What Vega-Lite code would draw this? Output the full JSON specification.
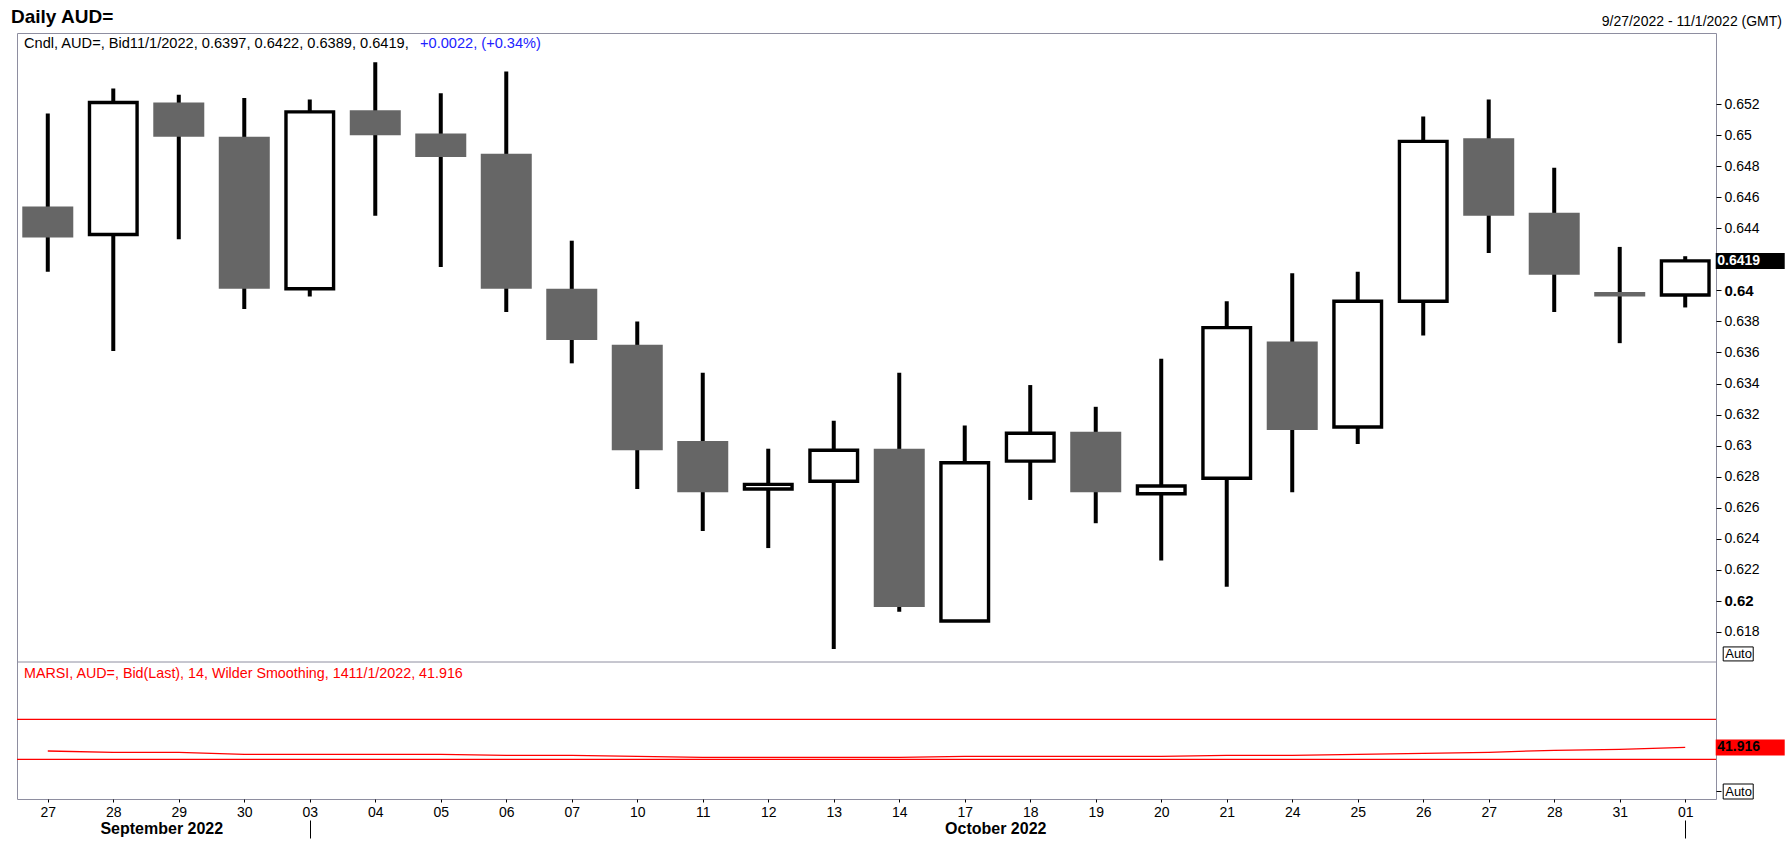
{
  "$schema": "https://vega.github.io/schema/vega-lite/v6.json",
  "autosize": {"type": "none"},
  "width": 1699,
  "height": 766,
  "padding": {"left": 17, "top": 33, "right": 72, "bottom": 63},
  "background": "white",
  "config": {
    "view": {"stroke": "#8e8ea0", "strokeWidth": 1},
    "font": "Liberation Sans"
  },
  "data": {
    "values": [
      {"d": "2022-09-27", "o": 0.6454, "h": 0.6514, "l": 0.6412, "c": 0.6434, "rsi": 38.3},
      {"d": "2022-09-28", "o": 0.6436, "h": 0.6530, "l": 0.6361, "c": 0.6521, "rsi": 37.0},
      {"d": "2022-09-29", "o": 0.6521, "h": 0.6526, "l": 0.6433, "c": 0.6499, "rsi": 37.0},
      {"d": "2022-09-30", "o": 0.6499, "h": 0.6524, "l": 0.6388, "c": 0.6401, "rsi": 35.0},
      {"d": "2022-10-03", "o": 0.6401, "h": 0.6523, "l": 0.6396, "c": 0.6515, "rsi": 35.0},
      {"d": "2022-10-04", "o": 0.6516, "h": 0.6547, "l": 0.6448, "c": 0.6500, "rsi": 35.0},
      {"d": "2022-10-05", "o": 0.6501, "h": 0.6527, "l": 0.6415, "c": 0.6486, "rsi": 35.0},
      {"d": "2022-10-06", "o": 0.6488, "h": 0.6541, "l": 0.6386, "c": 0.6401, "rsi": 34.0},
      {"d": "2022-10-07", "o": 0.6401, "h": 0.6432, "l": 0.6353, "c": 0.6368, "rsi": 34.0},
      {"d": "2022-10-10", "o": 0.6365, "h": 0.6380, "l": 0.6272, "c": 0.6297, "rsi": 33.0},
      {"d": "2022-10-11", "o": 0.6303, "h": 0.6347, "l": 0.6245, "c": 0.6270, "rsi": 32.0},
      {"d": "2022-10-12", "o": 0.6272, "h": 0.6298, "l": 0.6234, "c": 0.6275, "rsi": 32.0},
      {"d": "2022-10-13", "o": 0.6277, "h": 0.6316, "l": 0.6169, "c": 0.6297, "rsi": 32.0},
      {"d": "2022-10-14", "o": 0.6298, "h": 0.6347, "l": 0.6193, "c": 0.6196, "rsi": 32.0},
      {"d": "2022-10-17", "o": 0.6187, "h": 0.6313, "l": 0.6187, "c": 0.6289, "rsi": 33.0},
      {"d": "2022-10-18", "o": 0.6290, "h": 0.6339, "l": 0.6265, "c": 0.6308, "rsi": 33.0},
      {"d": "2022-10-19", "o": 0.6309, "h": 0.6325, "l": 0.6250, "c": 0.6270, "rsi": 33.0},
      {"d": "2022-10-20", "o": 0.6269, "h": 0.6356, "l": 0.6226, "c": 0.6274, "rsi": 33.0},
      {"d": "2022-10-21", "o": 0.6279, "h": 0.6393, "l": 0.6209, "c": 0.6376, "rsi": 34.0},
      {"d": "2022-10-24", "o": 0.6367, "h": 0.6411, "l": 0.6270, "c": 0.6310, "rsi": 34.0},
      {"d": "2022-10-25", "o": 0.6312, "h": 0.6412, "l": 0.6301, "c": 0.6393, "rsi": 35.0},
      {"d": "2022-10-26", "o": 0.6393, "h": 0.6512, "l": 0.6371, "c": 0.6496, "rsi": 36.0},
      {"d": "2022-10-27", "o": 0.6498, "h": 0.6523, "l": 0.6424, "c": 0.6448, "rsi": 37.0},
      {"d": "2022-10-28", "o": 0.6450, "h": 0.6479, "l": 0.6386, "c": 0.6410, "rsi": 39.0},
      {"d": "2022-10-31", "o": 0.6399, "h": 0.6428, "l": 0.6366, "c": 0.6396, "rsi": 40.0},
      {"d": "2022-11-01", "o": 0.6397, "h": 0.6422, "l": 0.6389, "c": 0.6419, "rsi": 41.916}
    ]
  },
  "layer": [
    {
      "layer": [
        {
          "mark": {"type": "rule", "color": "black", "strokeWidth": 4},
          "encoding": {
            "x": {
              "field": "d",
              "type": "ordinal",
              "title": null,
              "scale": {"type": "point", "padding": 0.47},
              "axis": {
                "orient": "bottom",
                "values": ["2022-10-03", "2022-11-01"],
                "labels": false,
                "domain": false,
                "grid": false,
                "ticks": true,
                "tickSize": 18,
                "tickColor": "black",
                "offset": 21,
                "title": null
              }
            },
            "y": {
              "field": "l",
              "type": "quantitative",
              "scale": {"domain": [0.61606, 0.65658], "range": [629, 0], "nice": false, "zero": false},
              "axis": {
                "orient": "right",
                "values": [0.618, 0.62, 0.622, 0.624, 0.626, 0.628, 0.63, 0.632, 0.634, 0.636, 0.638, 0.64, 0.644, 0.646, 0.648, 0.65, 0.652],
                "format": ".3~f",
                "domain": false,
                "grid": false,
                "tickSize": 5,
                "tickColor": "black",
                "labelPadding": 3,
                "labelColor": "black",
                "labelBaseline": "middle",
                "labelFlush": false,
                "labelOverlap": false,
                "labelFontSize": {"condition": {"test": "datum.value == 0.64 || datum.value == 0.62", "value": 15}, "value": 14},
                "labelFontWeight": {"condition": {"test": "datum.value == 0.64 || datum.value == 0.62", "value": "bold"}, "value": "normal"},
                "title": ["Price", "USD"],
                "titleAngle": 0,
                "titleAlign": "left",
                "titleBaseline": "alphabetic",
                "titleX": 6,
                "titleY": 30,
                "titleFontSize": 14,
                "titleFontWeight": "normal",
                "titleLineHeight": 18,
                "titleColor": "black"
              }
            },
            "y2": {"field": "h"}
          }
        },
        {
          "transform": [{"filter": "datum.c < datum.o"}],
          "mark": {"type": "bar", "size": 51, "color": "#666666"},
          "encoding": {
            "x": {"field": "d", "type": "ordinal", "title": null},
            "y": {"field": "o", "type": "quantitative", "title": null},
            "y2": {"field": "c"}
          }
        },
        {
          "transform": [{"filter": "datum.c >= datum.o"}],
          "mark": {"type": "bar", "size": 47.6, "fill": "white", "stroke": "black", "strokeWidth": 3.4},
          "encoding": {
            "x": {"field": "d", "type": "ordinal", "title": null},
            "y": {"field": "o", "type": "quantitative", "title": null},
            "y2": {"field": "c"}
          }
        },
        {
          "transform": [{"filter": "datum.d == '2022-11-01'"}],
          "mark": {"type": "point", "shape": "M 0.61 -0.16 H 1.99 V 0.16 H 0.61 Z", "size": 10000, "filled": true, "color": "black", "opacity": 1, "strokeWidth": 0},
          "encoding": {
            "x": {"field": "d", "type": "ordinal", "title": null},
            "y": {"field": "c", "type": "quantitative", "title": null}
          }
        },
        {
          "transform": [{"filter": "datum.d == '2022-11-01'"}],
          "mark": {"type": "text", "align": "left", "baseline": "middle", "dx": 32, "fontSize": 14, "fontWeight": "bold", "color": "white"},
          "encoding": {
            "x": {"field": "d", "type": "ordinal", "title": null},
            "y": {"field": "c", "type": "quantitative", "title": null},
            "text": {"field": "c", "type": "quantitative", "format": ".4f"}
          }
        },
        {
          "data": {"values": [{}]},
          "mark": {"type": "point", "shape": "M 0.76 -0.14 H 1.36 V 0.14 H 0.76 Z", "size": 10000, "filled": false, "color": "black", "opacity": 1, "strokeWidth": 1},
          "encoding": {
            "x": {"datum": "2022-11-01", "type": "ordinal"},
            "y": {"datum": 0.61658, "type": "quantitative"}
          }
        },
        {
          "data": {"values": [{}]},
          "mark": {"type": "text", "text": "Auto", "align": "left", "baseline": "middle", "dx": 40, "fontSize": 13, "color": "black"},
          "encoding": {
            "x": {"datum": "2022-11-01", "type": "ordinal"},
            "y": {"datum": 0.61658, "type": "quantitative"}
          }
        },
        {
          "data": {"values": [{}]},
          "mark": {"type": "text", "text": "September 2022", "align": "center", "baseline": "alphabetic", "dx": -17, "fontSize": 16, "fontWeight": "bold", "color": "black"},
          "encoding": {
            "x": {"datum": "2022-09-29", "type": "ordinal"},
            "y": {"value": 801}
          }
        },
        {
          "data": {"values": [{}]},
          "mark": {"type": "text", "text": "October 2022", "align": "center", "baseline": "alphabetic", "dx": 31, "fontSize": 16, "fontWeight": "bold", "color": "black"},
          "encoding": {
            "x": {"datum": "2022-10-17", "type": "ordinal"},
            "y": {"value": 801}
          }
        },
        {
          "data": {"values": [{}]},
          "mark": {"type": "text", "text": "Daily AUD=", "align": "left", "baseline": "alphabetic", "fontSize": 19, "fontWeight": "bold", "color": "black"},
          "encoding": {"x": {"value": -6}, "y": {"value": -10}}
        },
        {
          "data": {"values": [{}]},
          "mark": {"type": "text", "text": "9/27/2022 - 11/1/2022 (GMT)", "align": "right", "baseline": "alphabetic", "fontSize": 14, "color": "black"},
          "encoding": {"x": {"value": 1765}, "y": {"value": -7}}
        },
        {
          "data": {"values": [{}]},
          "mark": {"type": "text", "text": "Cndl, AUD=, Bid11/1/2022, 0.6397, 0.6422, 0.6389, 0.6419,", "align": "left", "baseline": "alphabetic", "fontSize": 14.6, "color": "black"},
          "encoding": {"x": {"value": 7}, "y": {"value": 15}}
        },
        {
          "data": {"values": [{}]},
          "mark": {"type": "text", "text": "+0.0022, (+0.34%)", "align": "left", "baseline": "alphabetic", "fontSize": 14.6, "color": "#2222ff"},
          "encoding": {"x": {"value": 403}, "y": {"value": 15}}
        }
      ]
    },
    {
      "layer": [
        {
          "data": {"values": [{"lv": 70}, {"lv": 30}]},
          "mark": {"type": "rule", "color": "#ff0000", "strokeWidth": 1.3},
          "encoding": {
            "y": {
              "field": "lv",
              "type": "quantitative",
              "scale": {"domain": [-9.7, 127.3], "range": [766, 629], "nice": false, "zero": false},
              "axis": {
                "orient": "right",
                "values": [-1.5],
                "labels": false,
                "domain": false,
                "grid": false,
                "tickSize": 5,
                "tickColor": "black",
                "title": ["Value", "USD"],
                "titleAngle": 0,
                "titleAlign": "left",
                "titleBaseline": "alphabetic",
                "titleX": 6,
                "titleY": 660,
                "titleFontSize": 14,
                "titleFontWeight": "normal",
                "titleLineHeight": 18,
                "titleColor": "black"
              }
            }
          }
        },
        {
          "data": {"values": [{}]},
          "mark": {"type": "rule", "color": "#8e8ea0", "strokeWidth": 1},
          "encoding": {"y": {"datum": 127.3, "type": "quantitative"}}
        },
        {
          "mark": {"type": "line", "color": "#ff0000", "strokeWidth": 1.3},
          "encoding": {
            "x": {
              "field": "d",
              "type": "ordinal",
              "title": null,
              "axis": {
                "orient": "bottom",
                "labelExpr": "slice(datum.label, 8)",
                "labelAngle": 0,
                "labelFontSize": 14,
                "labelColor": "black",
                "labelPadding": 3,
                "domain": false,
                "grid": false,
                "ticks": true,
                "tickSize": 3,
                "tickColor": "black",
                "title": null
              }
            },
            "y": {"field": "rsi", "type": "quantitative", "title": null}
          }
        },
        {
          "transform": [{"filter": "datum.d == '2022-11-01'"}],
          "mark": {"type": "point", "shape": "M 0.61 -0.16 H 1.99 V 0.16 H 0.61 Z", "size": 10000, "filled": true, "color": "#ff0000", "opacity": 1, "strokeWidth": 0},
          "encoding": {
            "x": {"field": "d", "type": "ordinal", "title": null},
            "y": {"field": "rsi", "type": "quantitative", "title": null}
          }
        },
        {
          "transform": [{"filter": "datum.d == '2022-11-01'"}],
          "mark": {"type": "text", "align": "left", "baseline": "middle", "dx": 32, "fontSize": 14, "fontWeight": "bold", "color": "black"},
          "encoding": {
            "x": {"field": "d", "type": "ordinal", "title": null},
            "y": {"field": "rsi", "type": "quantitative", "title": null},
            "text": {"field": "rsi", "type": "quantitative", "format": ".3f"}
          }
        },
        {
          "data": {"values": [{}]},
          "mark": {"type": "point", "shape": "M 0.76 -0.15 H 1.36 V 0.15 H 0.76 Z", "size": 10000, "filled": false, "color": "black", "opacity": 1, "strokeWidth": 1},
          "encoding": {
            "x": {"datum": "2022-11-01", "type": "ordinal"},
            "y": {"datum": -2.2, "type": "quantitative"}
          }
        },
        {
          "data": {"values": [{}]},
          "mark": {"type": "text", "text": "Auto", "align": "left", "baseline": "middle", "dx": 40, "fontSize": 13, "color": "black"},
          "encoding": {
            "x": {"datum": "2022-11-01", "type": "ordinal"},
            "y": {"datum": -2.2, "type": "quantitative"}
          }
        },
        {
          "data": {"values": [{}]},
          "mark": {"type": "text", "text": "MARSI, AUD=, Bid(Last),  14, Wilder Smoothing, 1411/1/2022, 41.916", "align": "left", "baseline": "alphabetic", "fontSize": 14.3, "color": "#ff0000"},
          "encoding": {"x": {"value": 7}, "y": {"value": 645}}
        }
      ]
    }
  ],
  "resolve": {"scale": {"y": "independent"}, "axis": {"x": "independent"}}
}
